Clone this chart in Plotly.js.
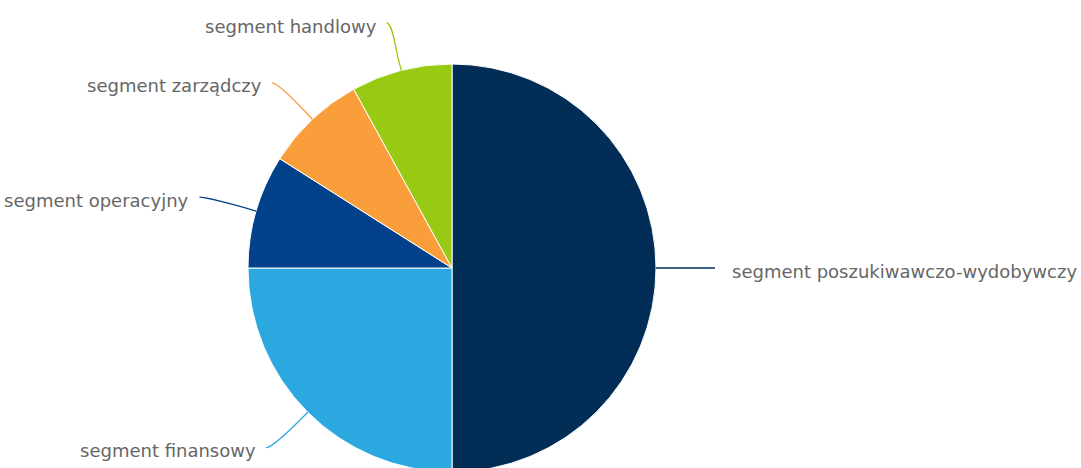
<!DOCTYPE html>
<html>
<head>
<meta charset="utf-8">
<script src="https://cdn.plot.ly/plotly-3.0.1.min.js"></script>
<style>
html,body{margin:0;padding:0;background:#fff;overflow:hidden;}
#chart{width:1081px;height:480px;}
</style>
</head>
<body>
<div id="chart"></div>
<script>
const labels = ['segment poszukiwawczo-wydobywczy', 'segment finansowy', 'segment operacyjny', 'segment zarządczy', 'segment handlowy'];
const values = [50, 25, 9, 8, 8];
const colors = ['#022d56', '#2ca8e0', '#03428a', '#fa9e3c', '#99ca13'];

const W = 1081, H = 480, T = 64, B = 8;
const CX = 452, R = 204;
const plotH = H - T - B;
const CY = T + plotH / 2;

function px(x, y) { return [x / W, (H - B - y) / plotH]; }
function pt(x, y) { const p = px(x, y); return p[0].toFixed(5) + ',' + p[1].toFixed(5); }

const total = values.reduce((a, b) => a + b, 0);
const shapes = [], annotations = [];
let cum = 0;
values.forEach((v, i) => {
  const a0 = cum / total * 2 * Math.PI;
  cum += v;
  const a1 = cum / total * 2 * Math.PI;
  const mid = (a0 + a1) / 2;
  const ux = Math.sin(mid), uy = -Math.cos(mid);
  const right = ux > 0.001;
  const base = [CX + R * ux, CY + R * uy];
  const brk = [CX + (R + 12) * ux, CY + (R + 12) * uy];
  const ctrl = [CX + (R + 24) * ux, CY + (R + 24) * uy];
  const Lx = CX + (R + 59) * ux;
  const Ly = Math.max(CY + (R + 50) * uy, 23);
  const c1x = Lx + (right ? -6 : 6);
  const path = 'M ' + pt(Lx, Ly) + ' C ' + pt(c1x, Ly) + ' ' + pt(ctrl[0], ctrl[1]) + ' ' + pt(brk[0], brk[1]) + ' L ' + pt(base[0], base[1]);
  shapes.push({type: 'path', xref: 'paper', yref: 'paper', path: path, line: {color: colors[i], width: 1.3}});
  const tp = px(right ? Lx + 15 : Lx - 8, Ly + 3);
  annotations.push({
    xref: 'paper', yref: 'paper', x: tp[0], y: tp[1], text: labels[i], showarrow: false,
    xanchor: right ? 'left' : 'right', yanchor: 'middle',
    font: {family: 'DejaVu Sans', size: 18, color: '#666666'}
  });
});

const data = [{
  type: 'pie', labels: labels, values: values, sort: false, direction: 'clockwise', rotation: 0,
  marker: {colors: colors, line: {color: '#ffffff', width: 1}},
  textinfo: 'none', hoverinfo: 'label+percent',
  domain: {x: [(CX - R) / W, (CX + R) / W], y: [0, 1]}
}];

const layout = {
  width: W, height: H, margin: {l: 0, r: 0, t: T, b: B},
  paper_bgcolor: '#ffffff', plot_bgcolor: '#ffffff',
  showlegend: false, shapes: shapes, annotations: annotations
};

Plotly.newPlot('chart', data, layout, {displayModeBar: false, staticPlot: true});
</script>
</body>
</html>
